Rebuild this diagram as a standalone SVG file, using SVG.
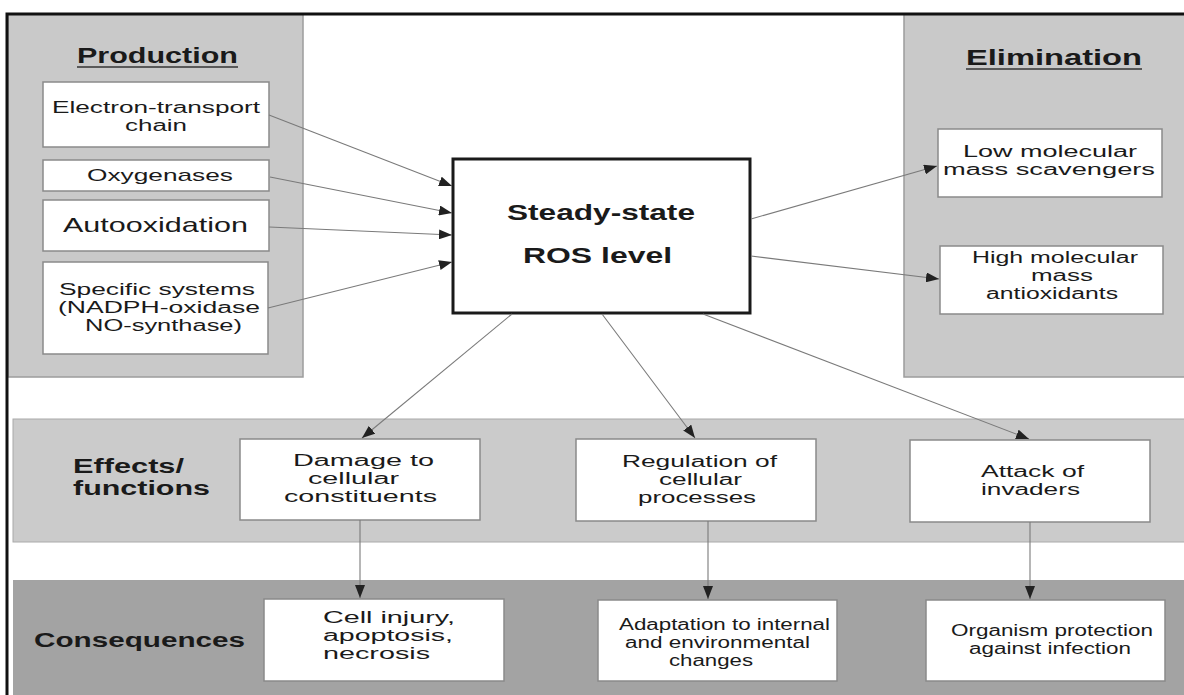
<svg xmlns="http://www.w3.org/2000/svg" width="1184" height="695" viewBox="0 0 1184 695">
<defs>
<style>
.panel{fill:#c9c9c9;stroke:#9c9c9c;stroke-width:1.5}
.band1{fill:#cbcbcb;stroke:#aaaaaa;stroke-width:1}
.band2{fill:#a3a3a3}
.box{fill:#ffffff;stroke:#8a8a8a;stroke-width:1.5}
.ros{fill:#ffffff;stroke:#1a1a1a;stroke-width:3}
text{font-family:"Liberation Sans",Arial,sans-serif;fill:#1a1a1a;font-size:16px}
.b{font-weight:bold;font-size:19.5px}
.m{text-anchor:middle}
.ul{stroke:#333;stroke-width:1.5}
#connectors line{stroke:#7a7a7a;stroke-width:1.1;marker-end:url(#ah)}
</style>
<marker id="ah" markerUnits="userSpaceOnUse" markerWidth="13" markerHeight="10" refX="13" refY="5" orient="auto">
<path d="M0,0 L13,5 L0,10 z" fill="#222"/>
</marker>
</defs>
<rect width="1184" height="695" fill="#ffffff"/>

<g id="production">
<rect class="panel" x="8" y="14" width="295" height="363"/>
<text class="b m" x="157.5" y="63" style="font-size:22px" textLength="161" lengthAdjust="spacingAndGlyphs">Production</text>
<line class="ul" x1="77" y1="67" x2="238" y2="67"/>
</g>
<g id="etc">
<rect class="box" x="43" y="82" width="226" height="65"/>
<text class="m" x="156" y="113" textLength="208" lengthAdjust="spacingAndGlyphs">Electron-transport</text>
<text class="m" x="156" y="131" textLength="62" lengthAdjust="spacingAndGlyphs">chain</text>
</g>
<g id="oxygenases">
<rect class="box" x="43" y="160" width="226" height="31"/>
<text class="m" x="160" y="181" style="font-size:17px" textLength="146" lengthAdjust="spacingAndGlyphs">Oxygenases</text>
</g>
<g id="autooxidation">
<rect class="box" x="43" y="200" width="226" height="51"/>
<text class="m" x="155.5" y="232" style="font-size:21px" textLength="185" lengthAdjust="spacingAndGlyphs">Autooxidation</text>
</g>
<g id="specific">
<rect class="box" x="43" y="262" width="225" height="92"/>
<text class="m" x="157" y="295" textLength="196" lengthAdjust="spacingAndGlyphs">Specific systems</text>
<text class="m" x="159" y="313" textLength="202" lengthAdjust="spacingAndGlyphs">(NADPH-oxidase</text>
<text class="m" x="163.5" y="331" textLength="157" lengthAdjust="spacingAndGlyphs">NO-synthase)</text>
</g>

<g id="elimination">
<rect class="panel" x="904" y="14" width="282" height="363"/>
<text class="b m" x="1054" y="65" style="font-size:22px" textLength="176" lengthAdjust="spacingAndGlyphs">Elimination</text>
<line class="ul" x1="966" y1="69" x2="1142" y2="69"/>
</g>
<g id="low">
<rect class="box" x="938" y="129" width="224" height="68"/>
<text class="m" x="1050" y="157" textLength="174" lengthAdjust="spacingAndGlyphs">Low molecular</text>
<text class="m" x="1049" y="175" textLength="212" lengthAdjust="spacingAndGlyphs">mass scavengers</text>
</g>
<g id="high">
<rect class="box" x="940" y="246" width="223" height="68"/>
<text class="m" x="1055" y="263" textLength="166" lengthAdjust="spacingAndGlyphs">High molecular</text>
<text class="m" x="1062" y="281" textLength="62" lengthAdjust="spacingAndGlyphs">mass</text>
<text class="m" x="1052" y="299" textLength="132" lengthAdjust="spacingAndGlyphs">antioxidants</text>
</g>

<g id="ros">
<rect class="ros" x="453" y="159" width="297" height="154"/>
<text class="b m" x="601" y="220" style="font-size:22px" textLength="188" lengthAdjust="spacingAndGlyphs">Steady-state</text>
<text class="b m" x="597.5" y="263" style="font-size:22px" textLength="149" lengthAdjust="spacingAndGlyphs">ROS level</text>
</g>

<g id="effects">
<rect class="band1" x="13" y="419" width="1173" height="123"/>
<text class="b" x="73" y="473" textLength="111" lengthAdjust="spacingAndGlyphs">Effects/</text>
<text class="b" x="73" y="495" textLength="137" lengthAdjust="spacingAndGlyphs">functions</text>
</g>
<g id="damage">
<rect class="box" x="240" y="439" width="240" height="81"/>
<text class="m" x="363.5" y="466" textLength="141" lengthAdjust="spacingAndGlyphs">Damage to</text>
<text class="m" x="353.5" y="484" textLength="91" lengthAdjust="spacingAndGlyphs">cellular</text>
<text class="m" x="360.5" y="502" textLength="153" lengthAdjust="spacingAndGlyphs">constituents</text>
</g>
<g id="regulation">
<rect class="box" x="576" y="439" width="240" height="82"/>
<text class="m" x="699.5" y="467" textLength="155" lengthAdjust="spacingAndGlyphs">Regulation of</text>
<text class="m" x="700.5" y="485" textLength="83" lengthAdjust="spacingAndGlyphs">cellular</text>
<text class="m" x="697" y="503" textLength="118" lengthAdjust="spacingAndGlyphs">processes</text>
</g>
<g id="attack">
<rect class="box" x="910" y="440" width="240" height="82"/>
<text class="m" x="1032.5" y="477" textLength="103" lengthAdjust="spacingAndGlyphs">Attack of</text>
<text class="m" x="1030.5" y="495" textLength="99" lengthAdjust="spacingAndGlyphs">invaders</text>
</g>

<g id="consequences">
<rect class="band2" x="13" y="580" width="1173" height="115"/>
<text class="b" x="34" y="647" textLength="211" lengthAdjust="spacingAndGlyphs">Consequences</text>
</g>
<g id="injury">
<rect class="box" x="264" y="599" width="240" height="82"/>
<text x="323" y="623" textLength="132" lengthAdjust="spacingAndGlyphs">Cell injury,</text>
<text x="323" y="641" textLength="130" lengthAdjust="spacingAndGlyphs">apoptosis,</text>
<text x="323" y="659" textLength="107" lengthAdjust="spacingAndGlyphs">necrosis</text>
</g>
<g id="adaptation">
<rect class="box" x="598" y="600" width="239" height="81"/>
<text x="619" y="630" textLength="211" lengthAdjust="spacingAndGlyphs">Adaptation to internal</text>
<text x="625" y="648" textLength="185" lengthAdjust="spacingAndGlyphs">and environmental</text>
<text x="669" y="666" textLength="84" lengthAdjust="spacingAndGlyphs">changes</text>
</g>
<g id="protection">
<rect class="box" x="926" y="600" width="239" height="81"/>
<text x="951" y="636" textLength="202" lengthAdjust="spacingAndGlyphs">Organism protection</text>
<text x="969" y="654" textLength="162" lengthAdjust="spacingAndGlyphs">against infection</text>
</g>

<g id="connectors">
<line x1="269" y1="115" x2="452" y2="186"/>
<line x1="270" y1="177" x2="452" y2="213"/>
<line x1="269" y1="227" x2="452" y2="235"/>
<line x1="268" y1="308" x2="452" y2="262"/>
<line x1="751" y1="219" x2="937" y2="166"/>
<line x1="751" y1="256" x2="939" y2="279"/>
<line x1="512" y1="314" x2="362" y2="438"/>
<line x1="602" y1="314" x2="695" y2="438"/>
<line x1="703" y1="314" x2="1029" y2="439"/>
<line x1="360" y1="520" x2="360" y2="598"/>
<line x1="708" y1="521" x2="708" y2="599"/>
<line x1="1030" y1="522" x2="1030" y2="599"/>
</g>

<path id="frame" d="M7,695 V14 H1184" fill="none" stroke="#111" stroke-width="3"/>
</svg>
